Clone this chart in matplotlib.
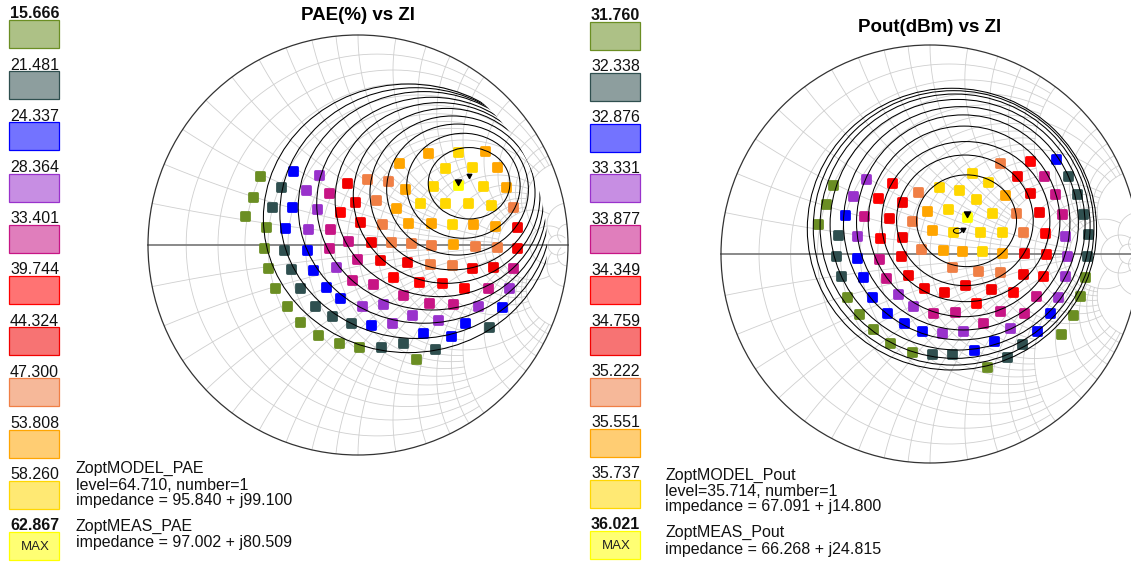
import numpy as np
import matplotlib
matplotlib.use("Agg")
import matplotlib.pyplot as plt
from matplotlib.markers import MarkerStyle
from matplotlib.patches import Circle, Ellipse, Rectangle
from matplotlib.path import Path
from matplotlib.colors import to_rgba

plt.rcParams['font.family'] = ['Liberation Sans', 'DejaVu Sans']

W, H = 1131, 562
Z0 = 50.0

# colours of the level bands (lowest -> MAX)
level_colors = ['#6b8e23', '#2f4f4f', '#0000ff', '#9932cc', '#c71585', '#ff0000',
                '#f20000', '#f07f45', '#ffa500', '#ffd700', '#ffff00']

# ---------------- PAE vs Zl ----------------
pae_levels = [15.666, 21.481, 24.337, 28.364, 33.401, 39.744, 44.324, 47.300, 53.808, 58.260, 62.867]

# measured load points (reflection coefficient), one list per level band
pae_re = [
    [-0.467, -0.498, -0.538, -0.438, -0.448, -0.427, -0.395, -0.340, -0.276, -0.189, -0.089, 0.005, 0.276],
    [-0.368, -0.408, -0.352, -0.319, -0.275, -0.205, -0.125, -0.035, 0.108, 0.213, 0.365, 0.625],
    [-0.311, -0.316, -0.346, -0.244, -0.213, -0.152, -0.086, 0.060, 0.311, 0.441, 0.511, 0.686],
    [-0.184, -0.249, -0.197, -0.240, -0.105, 0.017, 0.121, 0.160, 0.256, 0.383, 0.573, 0.719],
    [-0.137, -0.133, -0.140, -0.046, -0.006, -0.029, 0.073, 0.216, 0.338, 0.454, 0.617, 0.740],
    [-0.086, 0.165, 0.289, 0.402, 0.506],
    [-0.054, -0.013, 0.010, 0.063, 0.105, 0.232, 0.544, 0.644, 0.756, 0.756],
    [0.041, 0.144, 0.086, 0.113, 0.156, 0.251, 0.346, 0.343, 0.446, 0.557, 0.660, 0.737],
    [0.335, 0.197, 0.224, 0.179, 0.240, 0.346, 0.454, 0.549, 0.652, 0.705, 0.660, 0.605],
    [0.478, 0.414, 0.544, 0.359, 0.597, 0.295, 0.414, 0.525, 0.632, 0.446],
    [0.478],
]
pae_im = [
    [0.330, 0.230, 0.138, 0.084, -0.014, -0.111, -0.206, -0.290, -0.365, -0.429, -0.468, -0.487, -0.544],
    [0.275, 0.183, -0.024, -0.116, -0.206, -0.289, -0.337, -0.370, -0.487, -0.465, -0.494, -0.389],
    [0.354, 0.179, 0.079, -0.024, -0.119, -0.198, -0.251, -0.381, -0.417, -0.433, -0.370, -0.297],
    [0.333, 0.262, 0.171, 0.075, -0.103, -0.289, -0.283, -0.370, -0.335, -0.359, -0.289, -0.206],
    [0.246, 0.076, -0.016, 0.021, -0.067, -0.167, -0.186, -0.238, -0.275, -0.283, -0.206, -0.111],
    [0.156, -0.152, -0.175, -0.183, -0.203],
    [0.297, 0.203, 0.111, 0.016, -0.071, -0.083, -0.108, -0.105, 0.087, -0.013],
    [0.314, 0.305, 0.214, 0.100, 0.013, 0.008, 0.000, -0.090, -0.095, -0.003, -0.008, 0.183],
    [0.437, 0.389, 0.267, 0.175, 0.103, 0.103, 0.003, 0.100, 0.090, 0.278, 0.370, 0.449],
    [0.444, 0.368, 0.373, 0.281, 0.281, 0.198, 0.198, 0.198, 0.190, 0.100],
    [0.286],
]
# model contours (centre, width, height), lowest level first
pae_cont_cx = [0.240, 0.275, 0.313, 0.351, 0.387, 0.422, 0.450, 0.474, 0.502, 0.529]
pae_cont_cy = [0.127, 0.152, 0.179, 0.197, 0.216, 0.234, 0.248, 0.264, 0.282, 0.294]
pae_cont_w = [1.381, 1.294, 1.195, 1.095, 0.992, 0.889, 0.786, 0.675, 0.540, 0.389]
pae_cont_h = [1.279, 1.194, 1.103, 1.013, 0.924, 0.833, 0.733, 0.624, 0.500, 0.340]
pae_zmodel = 95.840 + 99.100j
pae_zmeas = 97.002 + 80.509j
pae_text = ['ZoptMODEL_PAE', 'level=64.710, number=1', 'impedance = 95.840 + j99.100',
            'ZoptMEAS_PAE', 'impedance = 97.002 + j80.509']

# ---------------- Pout vs Zl ----------------
pout_levels = [31.760, 32.338, 32.876, 33.331, 33.877, 34.349, 34.759, 35.222, 35.551, 35.737, 36.021]
pout_re = [
    [-0.466, -0.499, -0.537, -0.396, -0.338, -0.274, -0.190, -0.088, 0.271, 0.627, 0.683, 0.718, 0.744],
    [0.662, 0.702, 0.734, 0.754, 0.753, -0.439, -0.450, -0.426, 0.008, 0.107, 0.367, 0.442],
    [0.603, -0.407, -0.348, -0.322, -0.276, -0.204, -0.124, -0.037, 0.211, 0.308, 0.510, 0.574],
    [-0.308, -0.370, -0.348, -0.152, -0.083, 0.059, 0.156, 0.383, 0.648, 0.654, 0.646, 0.614],
    [-0.314, -0.244, -0.212, 0.013, 0.120, 0.252, 0.335, 0.450, 0.506, 0.545, 0.598, 0.630],
    [-0.183, -0.250, -0.239, 0.219, 0.399, 0.542, 0.555, 0.550, 0.478],
    [-0.136, -0.195, -0.132, -0.140, -0.104, -0.029, 0.069, 0.167, 0.290, 0.447, 0.450, 0.523, 0.478, 0.415],
    [0.335, -0.056, -0.085, -0.045, 0.104, 0.231, 0.335, 0.443, 0.410],
    [-0.013, 0.011, 0.064, 0.155, 0.346, 0.359],
    [0.199, 0.279, 0.045, 0.140, 0.220, 0.088, 0.295, 0.108, 0.239, 0.343, 0.250],
    [0.179],
]
pout_im = [
    [0.332, 0.238, 0.142, -0.204, -0.287, -0.360, -0.424, -0.467, -0.542, -0.383, -0.293, -0.201, -0.108],
    [0.373, 0.287, 0.191, 0.094, -0.010, 0.091, -0.010, -0.104, -0.478, -0.480, -0.491, -0.431],
    [0.453, 0.187, -0.021, -0.112, -0.204, -0.284, -0.332, -0.368, -0.459, -0.416, -0.368, -0.281],
    [0.359, 0.278, 0.086, -0.193, -0.247, -0.380, -0.368, -0.356, 0.086, -0.010, -0.105, -0.204],
    [0.182, -0.024, -0.113, -0.281, -0.279, -0.329, -0.271, -0.281, -0.199, 0.373, 0.287, 0.191],
    [0.338, 0.266, 0.078, -0.236, -0.180, -0.105, -0.002, 0.099, 0.447],
    [0.250, 0.174, 0.080, -0.010, -0.100, -0.161, -0.183, -0.148, -0.169, -0.097, 0.003, 0.203, 0.293, 0.373],
    [0.434, 0.298, 0.158, 0.022, -0.064, -0.080, -0.085, 0.104, 0.198],
    [0.206, 0.115, 0.019, 0.016, 0.006, 0.282],
    [0.389, 0.346, 0.322, 0.306, 0.263, 0.215, 0.198, 0.104, 0.107, 0.107, 0.014],
    [0.175],
]
pout_cont_cx = [0.105, 0.113, 0.120, 0.132, 0.148, 0.159, 0.163, 0.171, 0.167, 0.175, 0.132]
pout_cont_cy = [0.119, 0.125, 0.133, 0.140, 0.147, 0.151, 0.156, 0.155, 0.161, 0.159, 0.111]
pout_cont_w = [1.384, 1.343, 1.292, 1.220, 1.124, 1.021, 0.917, 0.805, 0.654, 0.478, 0.040]
pout_cont_h = [1.348, 1.313, 1.265, 1.199, 1.116, 1.029, 0.912, 0.766, 0.625, 0.439, 0.024]
pout_zmodel = 67.091 + 14.800j
pout_zmeas = 66.268 + 24.815j
pout_text = ['ZoptMODEL_Pout', 'level=35.714, number=1', 'impedance = 67.091 + j14.800',
             'ZoptMEAS_Pout', 'impedance = 66.268 + j24.815']


def gamma(z):
    zn = z / Z0
    return (zn - 1) / (zn + 1)


def smith_grid(ax):
    grid_c = '#cfcfcf'
    # resistance circles, each one drawn up to a reactance limit
    r_lines = [(0.1, 2), (0.2, 5), (0.3, 2), (0.4, 2), (0.5, 5), (0.6, 2), (0.7, 2), (0.8, 2),
               (0.9, 2), (1.0, 5), (1.2, 2), (1.4, 2), (1.6, 2), (1.8, 2), (2.0, 5), (2.5, 5),
               (3.0, 5), (3.5, 5), (4.0, 5), (4.5, 5), (5.0, 10), (10.0, 20), (20.0, 50)]
    for r, xm in r_lines:
        x = np.linspace(-xm, xm, 1500)
        g = (r + 1j * x - 1) / (r + 1j * x + 1)
        ax.plot(g.real, g.imag, color=grid_c, lw=0.6, zorder=1)
    # reactance arcs, each one drawn up to a resistance limit
    for xv, rm in r_lines:
        r = np.linspace(0, rm, 1500)
        for s in (1, -1):
            g = (r + 1j * s * xv - 1) / (r + 1j * s * xv + 1)
            ax.plot(g.real, g.imag, color=grid_c, lw=0.6, zorder=1)
    ax.plot([-1, 1], [0, 0], color='#808080', lw=1.3, zorder=1.5)
    ax.add_patch(Circle((0, 0), 1, fill=False, ec='#333333', lw=0.9, zorder=2))


def smith_axes(fig, cx, cy, R, lim=1.05):
    half = R * lim
    ax = fig.add_axes([(cx - half) / W, 1 - (cy + half) / H, 2 * half / W, 2 * half / H])
    ax.set_xlim(-lim, lim)
    ax.set_ylim(-lim, lim)
    ax.axis('off')
    ax.patch.set_visible(False)
    return ax


def draw_chart(ax, re_lists, im_lists, ccx, ccy, cw, ch, zmodel, zmeas):
    smith_grid(ax)
    clip = Circle((0, 0), 0.9, transform=ax.transData)
    for i in range(len(ccx)):
        e = Ellipse((ccx[i], ccy[i]), cw[i], ch[i], fill=False, ec='black', lw=0.75, zorder=4)
        ax.add_patch(e)
        e.set_clip_path(clip)
    sq = MarkerStyle('s', joinstyle='round')
    for k in range(len(re_lists)):
        ax.plot(re_lists[k], im_lists[k], ls='none', marker=sq, ms=5.2, mew=2.0,
                mfc=level_colors[k], mec=level_colors[k], zorder=3)
    tri = Path([(0, 0), (-0.55, 1.0), (0.55, 1.0), (0, 0)],
               [Path.MOVETO, Path.LINETO, Path.LINETO, Path.CLOSEPOLY])
    gm = gamma(zmeas)
    gd = gamma(zmodel)
    ax.plot([gm.real], [gm.imag], ls='none', marker=tri, ms=8, color='black', zorder=5)
    ax.plot([gd.real], [gd.imag], ls='none', marker=tri, ms=6, color='black', zorder=5)


def draw_legend(ov, x0, y0, step, levels):
    n = len(levels)
    for k, lv in enumerate(levels):
        top = y0 + k * step
        c = level_colors[k]
        ov.add_patch(Rectangle((x0, top), 50, 28, facecolor=to_rgba(c, 0.55), edgecolor=c, lw=0.9))
        bold = 'bold' if k in (0, n - 1) else 'normal'
        ov.text(x0 + 1, top - 1.5, f'{lv:.3f}', ha='left', va='baseline', fontsize=11.5,
                fontweight=bold, color='#111111')
    ov.text(x0 + 26, top + 15, 'MAX', ha='center', va='center', fontsize=9.5, color='#222222')


def draw_info(ov, x, baselines, lines):
    for y, s in zip(baselines, lines):
        ov.text(x, y, s, ha='left', va='baseline', fontsize=11.5, color='#111111')


fig = plt.figure(figsize=(W / 100, H / 100), dpi=100)

ov = fig.add_axes([0, 0, 1, 1])
ov.set_xlim(0, W)
ov.set_ylim(H, 0)
ov.axis('off')

draw_legend(ov, 9, 20, 51.2, pae_levels)
draw_legend(ov, 590, 21.7, 50.9, pout_levels)
draw_info(ov, 76, [473, 489.5, 504.5, 530.5, 546.5], pae_text)
draw_info(ov, 665, [479.5, 495.7, 511.5, 537.3, 554], pout_text)

ax1 = smith_axes(fig, 358, 245, 210)
draw_chart(ax1, pae_re, pae_im, pae_cont_cx, pae_cont_cy, pae_cont_w, pae_cont_h,
           pae_zmodel, pae_zmeas)
ax2 = smith_axes(fig, 930, 254, 209)
draw_chart(ax2, pout_re, pout_im, pout_cont_cx, pout_cont_cy, pout_cont_w, pout_cont_h,
           pout_zmodel, pout_zmeas)

fig.text(358 / W, 1 - 15.5 / H, 'PAE(%) vs Zl', ha='center', va='center',
         fontsize=13.5, fontweight='bold')
fig.text(930 / W, 1 - 27 / H, 'Pout(dBm) vs Zl', ha='center', va='center',
         fontsize=13.5, fontweight='bold')

fig.savefig('out.png', dpi=100)
